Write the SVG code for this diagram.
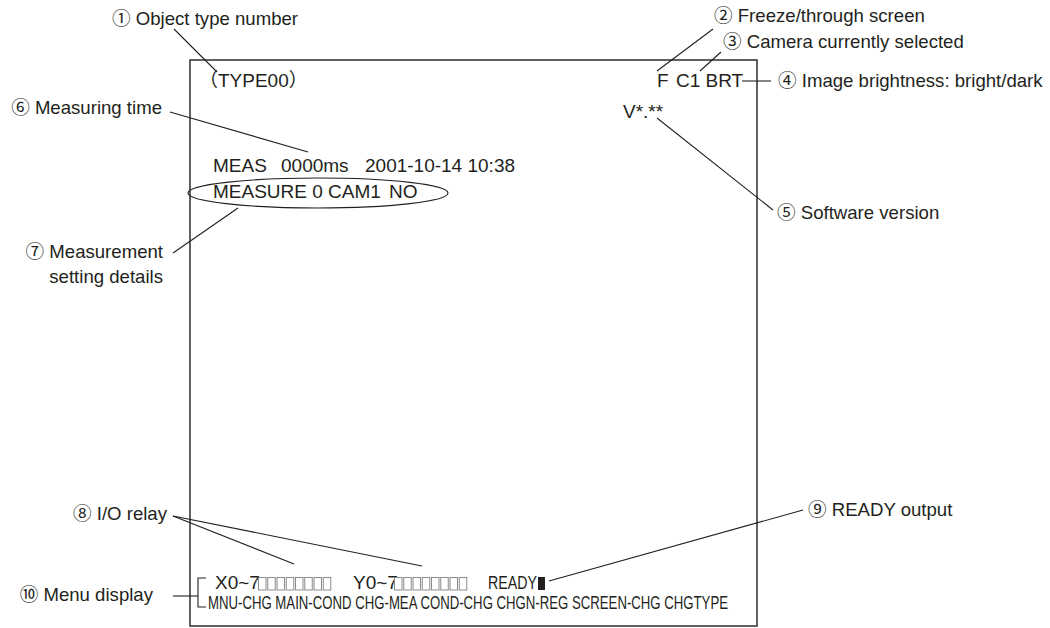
<svg xmlns="http://www.w3.org/2000/svg" width="1050" height="628" viewBox="0 0 1050 628">
<style>
text{font-family:"Liberation Sans","Noto Sans CJK JP",sans-serif;fill:#231f20}
.lbl{font-size:18.6px}
.scr{font-size:19px}
.menu{font-size:17.5px}
.ln{stroke:#231f20;stroke-width:1.1;fill:none}
.box{stroke:#8a8a8a;stroke-width:1;fill:#fff}
.frame{stroke:#3a3a3a;stroke-width:1.6;fill:none}
.end{text-anchor:end}
</style>
<defs>
<g id="boxes">
<rect class="box" x="0.5" y="0.5" width="7.5" height="12.5"/>
<rect class="box" x="9.75" y="0.5" width="7.5" height="12.5"/>
<rect class="box" x="19" y="0.5" width="7.5" height="12.5"/>
<rect class="box" x="28.25" y="0.5" width="7.5" height="12.5"/>
<rect class="box" x="37.5" y="0.5" width="7.5" height="12.5"/>
<rect class="box" x="46.75" y="0.5" width="7.5" height="12.5"/>
<rect class="box" x="56" y="0.5" width="7.5" height="12.5"/>
<rect class="box" x="65.25" y="0.5" width="7.5" height="12.5"/>
</g>
</defs>
<rect width="1050" height="628" fill="#fff"/>
<g id="screen">
<rect class="frame" x="190" y="60" width="567" height="566"/>
<text class="scr" x="199" y="87">（TYPE00）</text>
<text class="scr" x="657" y="87">F</text>
<text class="scr" x="676" y="87">C1 BRT</text>
<text class="scr" x="623" y="118">V*.**</text>
<text class="scr" x="213" y="172">MEAS</text>
<text class="scr" x="281" y="172">0000ms</text>
<text class="scr" x="365" y="172">2001-10-14 10:38</text>
<text class="scr" x="213" y="198">MEASURE 0 CAM1</text>
<text class="scr" x="389" y="198">NO</text>
<ellipse class="ln" cx="318" cy="193" rx="130" ry="15"/>
<text class="scr" x="215" y="589">X0~7</text>
<use href="#boxes" x="258" y="577"/>
<text class="scr" x="353" y="589">Y0~7</text>
<use href="#boxes" x="394" y="577"/>
<text class="scr" x="488" y="589" textLength="49" lengthAdjust="spacingAndGlyphs">READY</text>
<rect x="538" y="577" width="7" height="13" fill="#231f20"/>
<text class="menu" x="208" y="609" textLength="520" lengthAdjust="spacingAndGlyphs">MNU-CHG MAIN-COND CHG-MEA COND-CHG CHGN-REG SCREEN-CHG CHGTYPE</text>
<path class="ln" d="M206,578 H198 V607 H206"/>
</g>
<g id="label1"><text class="lbl" x="112" y="25">① Object type number</text></g>
<g id="label2"><text class="lbl" x="714" y="22">② Freeze/through screen</text></g>
<g id="label3"><text class="lbl" x="723" y="48">③ Camera currently selected</text></g>
<g id="label4"><text class="lbl" x="778" y="87">④ Image brightness: bright/dark</text></g>
<g id="label5"><text class="lbl" x="777" y="219">⑤ Software version</text></g>
<g id="label6"><text class="lbl end" x="162" y="114">⑥ Measuring time</text></g>
<g id="label7"><text class="lbl end" x="163" y="258">⑦ Measurement</text><text class="lbl end" x="163" y="283">setting details</text></g>
<g id="label8"><text class="lbl end" x="167" y="520">⑧ I/O relay</text></g>
<g id="label9"><text class="lbl" x="808" y="516">⑨ READY output</text></g>
<g id="label10"><text class="lbl end" x="153" y="601">⑩ Menu display</text></g>
<g id="connectors">
<line class="ln" x1="174" y1="29" x2="217" y2="72"/>
<line class="ln" x1="713" y1="29" x2="657" y2="71"/>
<line class="ln" x1="721" y1="52" x2="700" y2="71"/>
<line class="ln" x1="742" y1="81" x2="771" y2="81"/>
<line class="ln" x1="657" y1="118" x2="773" y2="210"/>
<line class="ln" x1="170" y1="112" x2="308" y2="152"/>
<line class="ln" x1="238" y1="208" x2="173" y2="253"/>
<line class="ln" x1="173" y1="516" x2="294" y2="564"/>
<line class="ln" x1="173" y1="516" x2="422" y2="566"/>
<line class="ln" x1="803" y1="510" x2="549" y2="581"/>
<line class="ln" x1="173" y1="596" x2="198" y2="596"/>
</g>
</svg>
